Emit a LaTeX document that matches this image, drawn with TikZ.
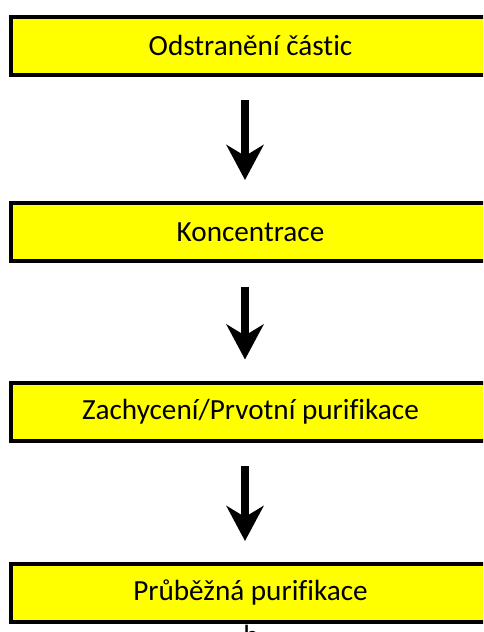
\documentclass[tikz,border=0pt]{standalone}
\usepackage{fontspec}
\setmainfont{Carlito}[Ligatures={NoCommon},RawFeature={-liga;-dlig}]
\usetikzlibrary{positioning,arrows.meta}
\definecolor{stageyellow}{RGB}{255,255,0}

\begin{document}
\begin{tikzpicture}[x=1pt,y=1pt]
    \tikzstyle{stage}=[rectangle,
                       draw=black,
                       line width=4pt,
                       fill=stageyellow,
                       minimum width=479pt,
                       minimum height=58pt,
                       inner sep=0pt,
                       outer sep=0pt,
                       text=black,
                       font=\fontsize{29.2pt}{35pt}\selectfont]
    \tikzset{flow/.style={line width=8.7pt,
                          -{Stealth[length=35pt,width=37pt,inset=11pt]},
                          shorten <=25.5pt, shorten >=23pt}}

    \useasboundingbox (0,0) rectangle (483,-632);
    \clip (0,0) rectangle (483,-632);

    \node[stage] (a) at (250.5,-45.5)     {Odstranění částic};
    \node[stage] (b) [below = 128.5pt of a] {Koncentrace};
    \node[stage] (c) [below = 121.5pt of b] {Zachycení/Prvotní purifikace};
    \node[stage] (d) [below = 123.5pt of c] {Průběžná purifikace};
    % next stage, only its top shows
    \node[anchor=north, inner sep=0pt, font=\fontsize{29.2pt}{35pt}\selectfont]
        (e) at (251,-625) {b};

    \draw[flow] ([xshift=-5.5pt]a.south) -- ([xshift=-5.5pt]b.north);
    \draw[flow] ([xshift=-5.5pt]b.south) -- ([xshift=-5.5pt]c.north);
    \draw[flow] ([xshift=-5.5pt]c.south) -- ([xshift=-5.5pt]d.north);
\end{tikzpicture}
\end{document}
